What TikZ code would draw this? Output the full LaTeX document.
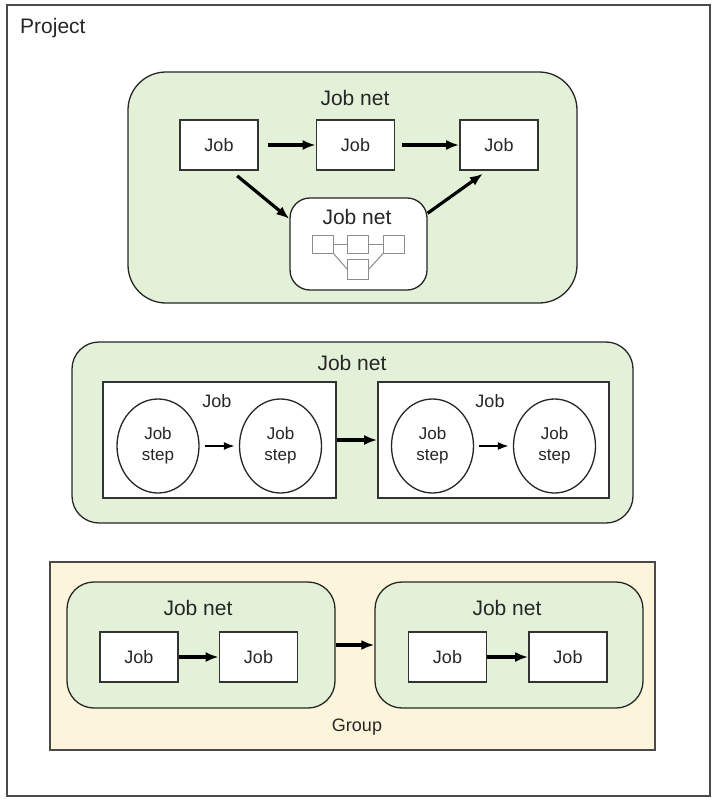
\documentclass[tikz,border=0pt]{standalone}
\usepackage{fontspec}
\setmainfont{Liberation Sans}
\usepackage{xcolor}
\usetikzlibrary{arrows.meta,shapes.geometric}
\definecolor{netgreen}{HTML}{E4F1D9}
\definecolor{groupyellow}{HTML}{FDF5DB}
\definecolor{framegray}{HTML}{4A4A4A}

\begin{document}
\begin{tikzpicture}[x=1pt,y=-1pt,
	lbl/.style={text=black!85, inner sep=0pt, font=\fontsize{21}{24}\selectfont},
	jobbox/.style={draw=black!80, line width=1.6pt, fill=white, minimum width=78pt, minimum height=50pt, text=black!85, font=\fontsize{18}{20}\selectfont},
	netbox/.style={draw=black!85, line width=1.3pt, fill=netgreen, rounded corners=27pt, inner sep=0pt},
	stepnode/.style={ellipse, draw=black!85, line width=1.3pt, fill=white, minimum width=82pt, minimum height=94pt, inner sep=0pt, align=center, text=black!85, font=\fontsize{17}{21}\selectfont},
	mini/.style={draw=black!45, line width=1pt, fill=white, minimum width=21pt, minimum height=18pt, inner sep=0pt},
	arr/.style={-{Latex[length=13pt,width=10pt]}, line width=3.2pt},
	smallarr/.style={-{Latex[length=11pt,width=8pt]}, line width=2pt}]
	\useasboundingbox (0,0) rectangle (716,800);
	
	% project frame
	\node[draw=framegray, line width=1.8pt, minimum width=703pt, minimum height=791pt, inner sep=0pt] (project) at (358.5,400.5) {};
	\node[lbl, anchor=west] (projectlbl) at (20,28) {Project};
	
	% top job net
	\node[netbox, rounded corners=38pt, minimum width=449pt, minimum height=231pt] (net1) at (352.5,187.5) {};
	\node[lbl] (net1lbl) at (355,98) {Job net};
	\foreach \n/\x in {j1/219, j2/355.5, j3/499}{
		\node[jobbox] (\n) at (\x,145) {Job};
	}
	\node[netbox, fill=white, rounded corners=20pt, minimum width=137pt, minimum height=92pt] (subnet) at (358.5,244) {};
	\node[lbl] (subnetlbl) at (357,217) {Job net};
	\foreach \n/\x in {m1/322.5, m2/357.5, m3/394}{
		\node[mini] (\n) at (\x,244) {};
	}
	\node[mini, minimum height=20pt] (m4) at (358,269) {};
	\foreach \a/\b in {m1/m2, m2/m3}{
		\draw[black!45, line width=1pt] (\a) -- (\b);
	}
	\draw[black!45, line width=1pt] (m1.south east) -- (m4.west);
	\draw[black!45, line width=1pt] (m3.south west) -- (m4.east);
	\draw[arr, shorten <=9pt] (j1) -- (j2);
	\draw[arr, shorten <=7pt] (j2) -- (j3);
	\draw[arr, shorten <=8pt] (j1.-65) -- (subnet.160);
	\draw[arr, shorten >=5pt] (subnet.24) -- (j3.-115);
	
	% middle job net
	\node[netbox, minimum width=561pt, minimum height=181pt] (net2) at (352.5,432.5) {};
	\node[lbl] (net2lbl) at (352,363) {Job net};
	\node[jobbox, minimum width=233pt, minimum height=116pt] (jobA) at (219.5,440) {};
	\node[jobbox, minimum width=231pt, minimum height=116pt] (jobB) at (493.5,440) {};
	\node[lbl, font=\fontsize{18}{20}\selectfont] (jobAlbl) at (217,401) {Job};
	\node[lbl, font=\fontsize{18}{20}\selectfont] (jobBlbl) at (490,401) {Job};
	\foreach \n/\x in {s1/158, s2/280.5, s3/432.5, s4/554.5}{
		\node[stepnode] (\n) at (\x,446) {Job\\step};
	}
	\draw[smallarr, shorten <=5pt, shorten >=4pt] (s1) -- (s2);
	\draw[smallarr, shorten <=5pt, shorten >=4pt] (s3) -- (s4);
	\draw[arr] (jobA) -- (jobB);
	
	% group
	\node[draw=framegray, line width=1.8pt, fill=groupyellow, minimum width=605pt, minimum height=188pt, inner sep=0pt] (group) at (352.5,656) {};
	\node[lbl, font=\fontsize{18}{20}\selectfont] (grouplbl) at (357,727) {Group};
	\foreach \n/\x in {netL/201, netR/509}{
		\node[netbox, minimum width=268pt, minimum height=126pt] (\n) at (\x,645) {};
	}
	\node[lbl] (netLlbl) at (198,608) {Job net};
	\node[lbl] (netRlbl) at (507,608) {Job net};
	\foreach \n/\x in {b1/139, b2/258.5, b3/447.5, b4/568}{
		\node[jobbox] (\n) at (\x,657) {Job};
	}
	\foreach \a/\b in {b1/b2, b3/b4, netL/netR}{
		\draw[arr] (\a) -- (\b);
	}
\end{tikzpicture}
\end{document}
